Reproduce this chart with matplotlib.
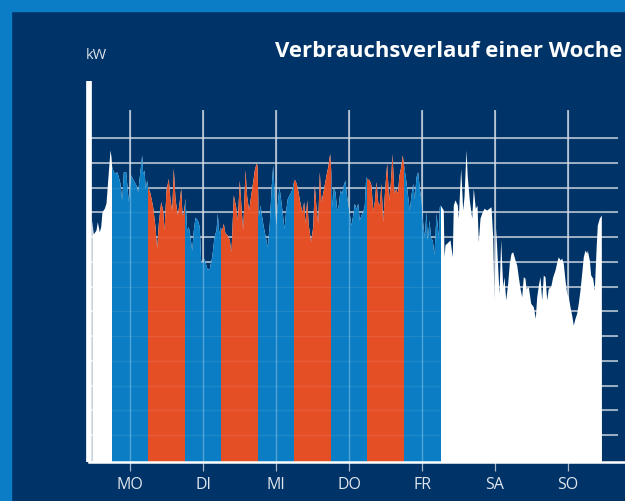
import matplotlib
matplotlib.use("Agg")
import matplotlib.pyplot as plt
from matplotlib.patches import Rectangle

# Stunden ab Montag 0:00 und Last (in Rasterlinien-Einheiten)
hours = [-0.59, -0.07, 0.82, 1.25, 1.91, 2.37, 2.79, 3.55, 4.11, 4.67, 5.42, 5.75,
         5.98, 6.51, 7.07, 7.63, 8.15, 8.71, 9.27, 9.80, 10.59, 10.91, 11.44, 12.23,
         13.08, 13.97, 14.53, 15.29, 15.85, 16.17, 16.60, 17.03, 17.49, 17.82,
         18.58, 19.46, 20.22, 20.78, 21.30, 22.09, 22.75, 23.18, 23.84, 24.59,
         25.15, 25.71, 26.24, 26.79, 27.55, 28.11, 28.67, 29.10, 29.52,
         30.08, 30.64, 31.17, 31.73, 32.28, 32.81, 33.37, 34.13, 34.78, 35.24,
         35.90, 36.33, 36.89, 37.41, 38.07, 38.86, 39.62, 40.27, 40.70, 41.16, 41.59,
         42.15, 42.67, 43.23, 43.99, 44.65, 45.20, 45.96, 46.75, 47.28, 47.93,
         48.49, 49.05, 49.81, 50.37, 51.02, 51.68, 52.34, 52.86, 53.42,
         53.75, 54.18, 54.74, 55.30, 55.82, 56.48, 57.14, 57.80, 58.35, 58.91,
         59.44, 59.90, 60.43, 60.98, 61.54, 62.07, 62.63, 63.19, 63.71, 64.60,
         65.36, 65.82,
         66.25, 66.80, 67.33, 67.89, 68.55, 69.11, 69.53, 70.09, 70.62, 71.41,
         72.06, 72.59, 73.15, 73.71, 74.24, 74.79, 75.55, 76.34, 77.00, 77.65,
         77.98, 78.41, 78.84, 79.40, 79.95, 80.48, 81.04, 81.60, 82.12, 82.68,
         83.24, 84.00, 84.66, 85.21, 85.74, 86.30, 86.86, 87.38, 87.94, 88.50,
         89.03, 89.49, 89.82,
         90.67, 91.23, 91.79, 92.32, 92.87, 93.43, 93.96, 94.52, 95.08, 95.74,
         96.39, 97.05, 97.58, 98.14, 98.79, 99.35, 99.88, 100.44, 101.00, 101.52,
         101.85, 102.51, 103.18, 103.82, 104.38, 104.94, 105.47, 106.03, 106.58,
         107.11, 107.67, 108.23, 108.76, 109.31, 109.74, 110.30, 110.86, 111.38,
         111.94, 112.60, 113.36, 113.69,
         114.03, 115.00, 115.23, 115.56, 116.64, 117.20, 117.96, 118.29, 118.85,
         119.60, 119.93, 120.72, 121.38, 121.81, 122.46, 122.89, 123.55, 124.34,
         124.87, 125.52, 126.08, 126.51, 127.07, 127.63, 128.39, 129.27, 130.03,
         130.69, 131.24, 131.67, 132.23, 132.76, 133.32, 133.87, 134.53, 134.96,
         135.52, 136.17, 136.70, 137.26, 137.82, 138.58, 139.13, 139.66, 140.22,
         140.78, 141.30, 141.86, 142.19, 142.95, 143.73, 144.59, 145.25, 145.71,
         146.36, 146.79, 147.35, 147.88, 148.44, 149.00, 149.52, 150.31, 150.97,
         151.72, 152.48, 152.81, 153.37, 153.93, 154.45, 155.01, 155.57, 156.10,
         156.65, 157.21, 157.74, 158.30, 158.85, 159.38, 159.94, 160.50, 161.03,
         161.59, 162.15, 162.35, 163.00, 163.46, 164.12, 164.65, 165.21, 165.63,
         166.29, 166.95, 167.00]

load = [9.70, 9.13, 9.29, 9.63, 9.22, 9.43, 10.03, 10.17, 10.38, 11.31, 12.53, 12.26,
        11.85, 11.65, 11.59, 11.65, 11.45, 11.18, 10.51, 11.65, 11.65, 11.18, 10.44, 11.52,
        11.31, 11.11, 10.84, 11.72, 12.33, 11.59, 11.72, 10.98, 11.31, 11.04,
        10.78, 10.23, 9.43, 8.55, 9.56, 10.44, 10.10, 9.29, 10.91, 11.38,
        10.51, 10.10, 11.79, 10.57, 9.90, 10.37, 10.98, 9.90, 9.97,
        10.57, 9.29, 9.43, 9.02, 8.48, 9.29, 9.81, 9.70, 9.43, 8.01,
        8.00, 8.15, 7.90, 7.70, 7.75, 8.21, 9.02, 9.29, 9.97, 9.16, 9.40,
        9.29, 9.56, 9.16, 9.09, 8.89, 8.41, 10.71, 10.23, 9.70, 11.31,
        10.23, 9.29, 11.72, 10.64, 10.10, 10.71, 11.25, 11.72, 11.99,
        11.92, 9.83, 10.30, 9.83, 9.43, 9.02, 8.62, 9.56, 10.91, 11.92,
        10.64, 9.49, 10.37, 11.04, 10.51, 9.97, 9.36, 10.10, 10.57, 10.78,
        10.98, 11.31,
        11.31, 11.11, 10.78, 10.37, 10.03, 10.44, 9.56, 10.51, 9.49, 8.82,
        9.43, 11.11, 10.23, 9.56, 11.65, 10.44, 10.91, 11.45, 11.85, 12.39,
        11.72, 10.23, 11.04, 10.84, 10.10, 10.30, 10.91, 10.78, 11.11, 11.31,
        10.64, 10.03, 9.49, 9.90, 10.37, 10.17, 10.37, 9.70, 9.90, 10.03,
        10.30, 11.45, 11.38,
        11.31, 11.11, 10.10, 10.44, 11.25, 10.44, 10.30, 11.18, 9.63, 10.98,
        11.99, 10.51, 11.18, 12.37, 10.78, 10.98, 10.78, 11.52, 11.85, 12.33,
        11.99, 11.45, 10.78, 10.10, 10.71, 11.18, 10.57, 11.45, 11.65,
        10.98, 10.51, 9.56, 9.02, 10.03, 8.89, 9.70, 8.96, 8.89,
        8.30, 9.97, 9.02, 10.23,
        10.30, 10.10, 8.21, 8.69, 8.82, 8.89, 8.21, 10.30, 10.51,
        10.30, 9.77, 11.79, 10.10, 10.64, 12.53, 11.45, 10.51, 9.77,
        10.98, 10.17, 10.30, 8.82, 9.77, 9.97, 10.17, 10.10, 10.17,
        10.23, 9.02, 6.46, 9.36, 8.08, 6.73, 8.89, 7.00, 7.40,
        6.46, 7.14, 7.94, 8.35, 8.41, 8.08, 7.88, 7.40, 6.93,
        6.59, 7.40, 7.34, 6.93, 7.00, 6.33, 6.19, 5.72, 6.59,
        7.14, 7.40, 6.46, 7.47, 7.40, 6.46, 6.93, 7.00, 7.40,
        7.67, 8.08, 8.21, 8.08, 8.15, 7.94, 7.27, 6.73, 6.59,
        6.19, 5.85, 5.45, 5.72, 5.92, 6.33, 6.86, 7.54, 8.21,
        8.48, 8.35, 8.48, 8.08, 7.47, 7.34, 6.86, 8.48, 9.49,
        9.77, 9.90, 0.00]

# Tag (6-18 Uhr) blau, Nacht (18-6 Uhr) orange, Mo 6:00 bis Fr 18:00
band_edges = [6, 18, 30, 42, 54, 66, 78, 90, 102, 114]
band_colors = ["#0a7dc4", "#e54f25"] * 5

day_labels = ["MO", "DI", "MI", "DO", "FR", "SA", "SO"]
day_centers = [12, 36, 60, 84, 108, 132, 156]
grid_levels = list(range(1, 14))

navy = "#003468"
light = "#0a7dc6"
W, H = 625, 501

plt.rcParams["font.family"] = ["Open Sans", "DejaVu Sans"]

fig = plt.figure(figsize=(W / 100, H / 100), dpi=100, facecolor=navy)


def px(x0, y0, x1, y1):
    return [x0 / W, 1 - y1 / H, (x1 - x0) / W, (y1 - y0) / H]


ax = fig.add_axes(px(88.85, 80.7, 625, 462.2))
ax.set_facecolor(navy)
xmin, xmax = -1.53, 174.74
ymin, ymax = -0.10, 15.33
ax.set_xlim(xmin, xmax)
ax.set_ylim(ymin, ymax)

# Raster unter den Flaechen
ax.hlines(grid_levels, xmin, 172.34, color="#c3cdda", lw=1.1, zorder=0.5)
ax.vlines(day_centers, ymin, 14.15, color="#c3cdda", lw=1.1, zorder=0.5)

ax.fill_between(hours, load, ymin, color="white", lw=0, zorder=2)
for i in range(len(band_edges) - 1):
    s, e = band_edges[i], band_edges[i + 1]
    poly = ax.fill_between(hours, load, ymin, color=band_colors[i], lw=0, zorder=3)
    poly.set_clip_path(Rectangle((s, ymin), e - s, 20, transform=ax.transData))

# Raster leicht ueber den Flaechen
ax.hlines(grid_levels, xmin, 172.34, color="white", lw=1.0, alpha=0.08, zorder=4)
ax.vlines(day_centers, ymin, 14.15, color="white", lw=1.0, alpha=0.3, zorder=4)

for side in ["top", "right"]:
    ax.spines[side].set_visible(False)
ax.spines["left"].set_color("white")
ax.spines["left"].set_linewidth(4.1)
ax.spines["left"].set_capstyle("butt")
ax.spines["bottom"].set_color("white")
ax.spines["bottom"].set_linewidth(1.8)
ax.spines["left"].set_zorder(6)
ax.spines["bottom"].set_zorder(6)

ax.set_yticks([])
ax.set_xticks(day_centers, day_labels)
ax.tick_params(axis="x", direction="out", length=6.5, width=0.9, color="#a9b7c8",
               pad=4, labelsize=11.5, labelcolor="#dfe5ec")

fig.text(275 / W, 1 - 57.3 / H, "Verbrauchsverlauf einer Woche", fontsize=15.9,
         fontweight="bold", color="white", va="baseline", ha="left")
fig.text(85.7 / W, 1 - 59.3 / H, "kW", fontsize=10.5, color="#dfe5ec", va="baseline", ha="left")

# hellblauer Rahmen oben und links
fig.patches.append(Rectangle((0, 1 - 11 / H), 1, 11 / H, transform=fig.transFigure,
                             color=light, zorder=10))
fig.patches.append(Rectangle((0, 0), 11 / W, 1, transform=fig.transFigure,
                             color=light, zorder=10))

fig.savefig("out.png", dpi=100, facecolor=navy)
